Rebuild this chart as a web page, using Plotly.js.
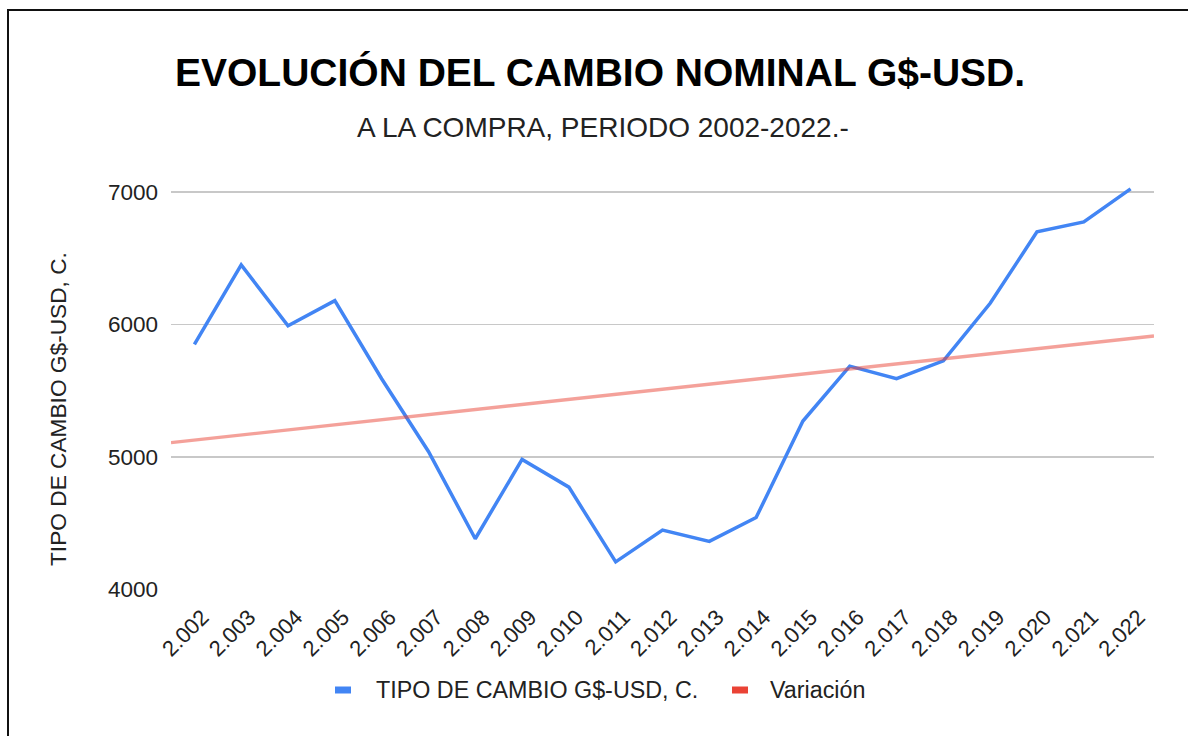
<!DOCTYPE html>
<html>
<head>
<meta charset="utf-8">
<script src="https://cdn.plot.ly/plotly-3.0.1.min.js"></script>
<style>
  html, body { margin: 0; padding: 0; background: #fff; overflow: hidden; }
  #frame { position: absolute; left: 7px; top: 9px; width: 1400px; height: 1000px; border: 2px solid #111; box-sizing: border-box; }
  #chart { position: absolute; left: 0; top: 0; width: 1188px; height: 736px; }
</style>
</head>
<body>
<div id="frame"></div>
<div id="chart"></div>
<script>
// Data
const yearLabels = ['2.002','2.003','2.004','2.005','2.006','2.007','2.008','2.009','2.010','2.011',
                    '2.012','2.013','2.014','2.015','2.016','2.017','2.018','2.019','2.020','2.021','2.022'];
const exchangeRate = [5850, 6450, 5990, 6180, 5590, 5040, 4380, 4980, 4770, 4205,
                      4445, 4360, 4540, 5270, 5685, 5590, 5725, 6160, 6700, 6775, 7025];
const yTicks = [4000, 5000, 6000, 7000];

const seriesName = 'TIPO DE CAMBIO G$-USD, C.';
const trendName = 'Variación';
const seriesColor = '#4285F4';
const trendColor = '#EA4335';

// category positions
const xIdx = yearLabels.map((_, i) => i);

// Linear trendline (least squares) of the series, as in the original chart
const n = exchangeRate.length;
const mx = xIdx.reduce((a, b) => a + b, 0) / n;
const my = exchangeRate.reduce((a, b) => a + b, 0) / n;
let sxy = 0, sxx = 0;
for (let i = 0; i < n; i++) { sxy += (xIdx[i] - mx) * (exchangeRate[i] - my); sxx += (xIdx[i] - mx) ** 2; }
const slope = sxy / sxx;
const intercept = my - slope * mx;
const trendX = [-0.5, n - 0.5];
const trendY = trendX.map(x => intercept + slope * x);

const FONT = '"Liberation Sans", Arial, sans-serif';

// plot-area geometry (pixels) for paper conversion of decorations
const M = { l: 171, r: 34, t: 179, b: 147 };
const PW = 1188 - M.l - M.r, PH = 736 - M.t - M.b;
const px = v => (v - M.l) / PW;
const py = v => (736 - M.b - v) / PH;

const traces = [
  {
    x: xIdx, y: exchangeRate, type: 'scatter', mode: 'lines', name: seriesName,
    line: { color: seriesColor, width: 3.5 }, showlegend: false
  },
  {
    x: trendX, y: trendY, type: 'scatter', mode: 'lines', name: trendName,
    line: { color: 'rgba(234,67,53,0.5)', width: 3.4 }, showlegend: false
  }
];

// legend (custom, to match swatch shape and spacing of the original)
const legendItems = [
  { name: seriesName, color: seriesColor, sx: 335, tx: 374 },
  { name: trendName, color: trendColor, sx: 732, tx: 768 }
];
const LEG_Y = 690;

const shapes = legendItems.map(it => ({
  type: 'rect', xref: 'paper', yref: 'paper',
  x0: px(it.sx), x1: px(it.sx + 16), y0: py(LEG_Y - 3.5), y1: py(LEG_Y + 3.5),
  fillcolor: it.color, line: { width: 0 }, layer: 'above'
}));

const annotations = [
  {
    text: '<b>EVOLUCIÓN DEL CAMBIO NOMINAL G$-USD.</b>',
    xref: 'paper', yref: 'paper', x: px(600), y: py(72),
    xanchor: 'center', yanchor: 'middle', showarrow: false,
    font: { size: 39, color: '#000', family: FONT }
  },
  {
    text: 'A LA COMPRA, PERIODO 2002-2022.-',
    xref: 'paper', yref: 'paper', x: px(603), y: py(127),
    xanchor: 'center', yanchor: 'middle', showarrow: false,
    font: { size: 28, color: '#222', family: FONT }
  },
  {
    text: 'TIPO DE CAMBIO G$-USD, C.',
    xref: 'paper', yref: 'paper', x: px(58), y: py(409),
    xanchor: 'center', yanchor: 'middle', textangle: -90, showarrow: false,
    font: { size: 22.7, color: '#222', family: FONT }
  }
].concat(legendItems.map(it => ({
  text: it.name, xref: 'paper', yref: 'paper', x: px(it.tx), y: py(LEG_Y),
  xanchor: 'left', yanchor: 'middle', showarrow: false,
  font: { size: 23.3, color: '#222', family: FONT }
})));

const layout = {
  width: 1188, height: 736,
  paper_bgcolor: 'rgba(0,0,0,0)', plot_bgcolor: 'rgba(0,0,0,0)',
  margin: M,
  font: { family: FONT, color: '#222' },
  showlegend: false,
  xaxis: {
    type: 'linear', range: [-0.5, n - 0.5],
    tickmode: 'array', tickvals: xIdx, ticktext: yearLabels,
    tickangle: -45, tickfont: { size: 22, color: '#222', family: FONT },
    ticklabelstandoff: 10, ticklabelshift: 8,
    showgrid: false, zeroline: false, showline: false, ticks: '',
    fixedrange: true
  },
  yaxis: {
    range: [4000, 7100], tickmode: 'array', tickvals: yTicks,
    ticktext: yTicks.map(String),
    tickfont: { size: 22.5, color: '#222', family: FONT },
    showgrid: true, gridcolor: '#c8c8c8', gridwidth: 1.6,
    zeroline: false, showline: false, ticks: '', ticklabelstandoff: 12,
    fixedrange: true
  },
  shapes: shapes,
  annotations: annotations
};

Plotly.newPlot('chart', traces, layout, { displayModeBar: false, staticPlot: true });
</script>
</body>
</html>
